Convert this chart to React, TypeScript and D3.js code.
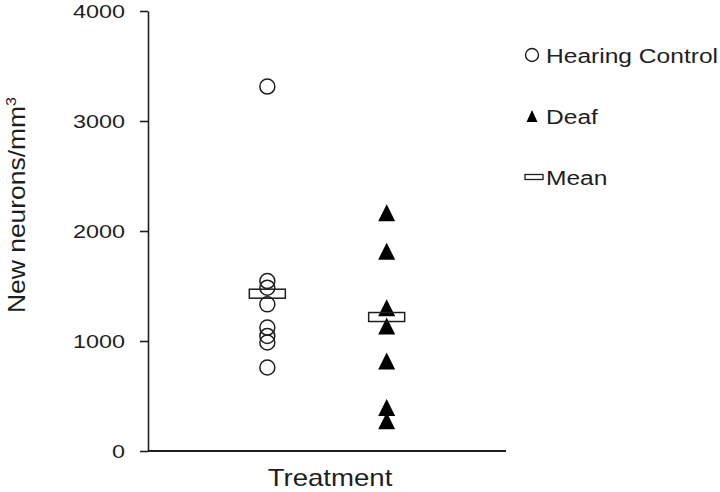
import * as d3 from 'd3';
import React, { useRef, useEffect } from 'react';

// groups on the x axis
const groups = ['Hearing Control', 'Deaf'];
// individual animals, new neurons per mm3
const hearingControl = [3313, 1545, 1485, 1333, 1122, 1046, 986, 759];
const deaf = [2165, 1817, 1303, 1137, 819, 396, 275];
// group means
const means = [1430, 1218];
const yTicks = [0, 1000, 2000, 3000, 4000];
const legendLabels = ['Hearing Control', 'Deaf', 'Mean'];

const WIDTH = 720;
const HEIGHT = 492;
const INK = '#1e1e1e';
const FONT = '"Liberation Sans", Arial, sans-serif';

// isoceles triangle centred on its bounding box
const triangle = (w: number, h: number) => {
  const p = d3.path();
  p.moveTo(0, -h / 2);
  p.lineTo(w / 2, h / 2);
  p.lineTo(-w / 2, h / 2);
  p.closePath();
  return p.toString();
};

const Chart = () => {
  const svgRef = useRef(null);

  useEffect(() => {
    if (!svgRef.current) return;
    const svg = d3.select(svgRef.current);
    svg.selectAll('*').remove();

    const x = d3.scalePoint().domain(groups).range([148, 506]).padding(1);
    const y = d3.scaleLinear().domain([0, 4000]).range([451, 11]);

    // y axis
    const yAxis = svg.append('g')
      .attr('transform', 'translate(148,0)')
      .call(d3.axisLeft(y).tickValues(yTicks).tickSize(8).tickSizeOuter(0).tickFormat(d3.format('d')));
    yAxis.select('.domain').attr('stroke', INK).attr('stroke-width', 1.6);
    yAxis.selectAll('.tick line').attr('stroke', INK).attr('stroke-width', 1.6);
    yAxis.selectAll('.tick text')
      .attr('x', 0)
      .attr('dy', '0.36em')
      .attr('transform', 'translate(-23,0) scale(1.3,1)')
      .attr('fill', INK)
      .style('font-family', FONT)
      .style('font-size', '18px');

    // x axis
    svg.append('line')
      .attr('x1', x.range()[0]).attr('x2', x.range()[1])
      .attr('y1', y(0)).attr('y2', y(0))
      .attr('stroke', INK).attr('stroke-width', 1.8);

    // hearing control circles
    svg.append('g').selectAll('circle')
      .data(hearingControl)
      .enter().append('circle')
      .attr('cx', x(groups[0]))
      .attr('cy', (d) => y(d))
      .attr('r', 7.5)
      .attr('fill', 'none')
      .attr('stroke', INK)
      .attr('stroke-width', 1.5);

    // deaf triangles
    svg.append('g').selectAll('path')
      .data(deaf)
      .enter().append('path')
      .attr('d', triangle(17, 17))
      .attr('transform', (d) => `translate(${x(groups[1])},${y(d)})`)
      .attr('fill', '#000');

    // means
    svg.append('g').selectAll('rect')
      .data(means)
      .enter().append('rect')
      .attr('x', (_, i) => x(groups[i]) - 18)
      .attr('y', (d) => y(d) - 4.5)
      .attr('width', 36)
      .attr('height', 9)
      .attr('fill', 'none')
      .attr('stroke', INK)
      .attr('stroke-width', 1.5);

    // axis titles
    svg.append('g')
      .attr('transform', 'translate(330,486)')
      .append('text')
      .attr('text-anchor', 'middle')
      .attr('transform', 'scale(1.2,1)')
      .attr('fill', INK)
      .style('font-family', FONT)
      .style('font-size', '23px')
      .text('Treatment');

    const yTitle = svg.append('g')
      .attr('transform', 'translate(25,205) rotate(-90)')
      .append('text')
      .attr('text-anchor', 'middle')
      .attr('transform', 'scale(1.15,1)')
      .attr('fill', INK)
      .style('font-family', FONT)
      .style('font-size', '23px');
    yTitle.append('tspan').text('New neurons/mm');
    yTitle.append('tspan').attr('dy', -9).style('font-size', '14px').text('3');

    // legend
    const legend = svg.append('g');
    const rowY = [55, 116, 177];
    legend.append('circle')
      .attr('cx', 532).attr('cy', rowY[0]).attr('r', 6.5)
      .attr('fill', 'none').attr('stroke', INK).attr('stroke-width', 1.4);
    legend.append('path')
      .attr('d', triangle(11, 12))
      .attr('transform', `translate(532,${rowY[1]})`)
      .attr('fill', '#000');
    legend.append('rect')
      .attr('x', 525).attr('y', rowY[2] - 2.5).attr('width', 18).attr('height', 5)
      .attr('fill', 'none').attr('stroke', INK).attr('stroke-width', 1.3);
    legend.selectAll('g.lbl')
      .data(legendLabels)
      .enter().append('g')
      .attr('class', 'lbl')
      .attr('transform', (_, i) => `translate(546,${rowY[i] + 7.5})`)
      .append('text')
      .attr('transform', 'scale(1.17,1)')
      .attr('fill', INK)
      .style('font-family', FONT)
      .style('font-size', '21px')
      .text((d) => d);
  }, [svgRef.current]);

  return (
    <svg
      ref={svgRef}
      width={WIDTH}
      height={HEIGHT}
      style={{ position: 'absolute', left: 0, top: 0, background: '#fff' }}
    />
  );
};

export default function App() {
  return <Chart />;
}
